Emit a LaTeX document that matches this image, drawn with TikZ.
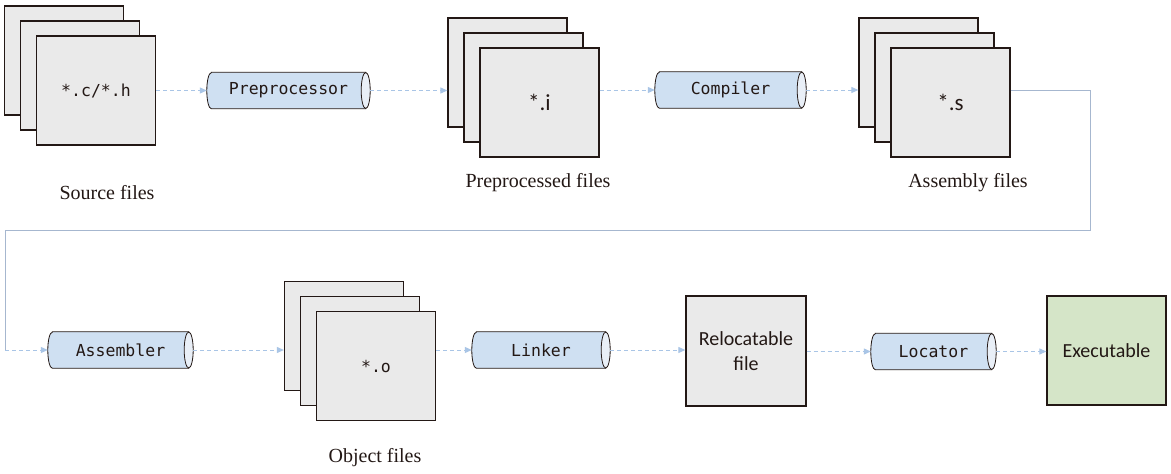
\documentclass[tikz,border=0pt]{standalone}
\usepackage{fontspec}
\setmainfont{Liberation Serif}
\newfontfamily\codefont{DejaVu Sans Mono}
\newfontfamily\boxfont{Carlito}
\usetikzlibrary{arrows.meta}

\definecolor{cardfill}{HTML}{EAEAEA}
\definecolor{ink}{HTML}{231815}
\definecolor{pipefill}{HTML}{CFE0F2}
\definecolor{pipeend}{HTML}{E9EFF7}
\definecolor{flowblue}{HTML}{A9C5E6}
\definecolor{wiregray}{HTML}{A6B7CF}
\definecolor{exefill}{HTML}{D5E5C8}

\pgfdeclarelayer{paper}
\pgfdeclarelayer{background}
\pgfsetlayers{paper,background,main}

\tikzset{
  card/.style={draw=ink, fill=cardfill, line width=1.3pt, minimum width=119pt,
    minimum height=109pt, inner sep=0pt, text=ink},
  codetext/.style={font=\codefont\fontsize{16.5}{18}\selectfont},
  sanstext/.style={font=\boxfont\fontsize{20}{25}\selectfont},
  bigsans/.style={font=\boxfont\fontsize{23}{25}\selectfont},
  pipe/.style={minimum height=36pt, inner sep=0pt, text=ink,
    font=\codefont\fontsize{16.5}{18}\selectfont},
  pipe outline/.style={draw=ink, fill=pipefill, line width=0.8pt},
  pipe face/.style={draw=ink, fill=pipeend, line width=0.8pt},
  caption/.style={text=ink, font=\fontsize{20}{22}\selectfont},
  flow/.style={draw=flowblue, line width=1pt, dash pattern=on 4pt off 3pt,
    -{Triangle[length=7pt,width=6pt]}},
  wire/.style={draw=wiregray, line width=0.9pt},
}

% horizontal tube behind a pipe node: rounded left end, open face on the right
\newcommand\drawpipe[1]{%
  \begin{pgfonlayer}{background}
    \filldraw[pipe outline] ([xshift=4.5pt]#1.north west) -- ([xshift=-4.5pt]#1.north east)
      -- ([xshift=-4.5pt]#1.south east) -- ([xshift=4.5pt]#1.south west)
      arc[start angle=270, end angle=90, x radius=4.5pt, y radius=18pt] -- cycle;
    \filldraw[pipe face] ([xshift=-4.5pt]#1.east) ellipse[x radius=4.5pt, y radius=18pt];
  \end{pgfonlayer}}

% three stacked file cards: name, front-card centre x, y, text, text style
\newcommand\filestack[5]{%
  \node[card] (#1back) at (#2-32,#3-30) {};
  \node[card] (#1mid) at (#2-16,#3-15) {};
  \node[card, #5] (#1) at (#2,#3) {#4};}

\begin{document}
\begin{tikzpicture}[x=1pt, y=-1pt]
  \begin{pgfonlayer}{paper}
    \fill[white] (0,0) rectangle (1171,474);
  \end{pgfonlayer}
  \useasboundingbox (0,0) rectangle (1171,474);

  % first row
  \filestack{src}{96}{90.5}{*.c/*.h}{codetext}
  \node[caption] (srclabel) at (107,193) {Source files};
  \node[pipe, minimum width=163pt] (pre) at (288.5,90.5) {Preprocessor};
  \drawpipe{pre}
  \filestack{pp}{539.5}{102.5}{*.i}{bigsans}
  \node[caption] (pplabel) at (538,183) {Preprocessed files};
  \node[pipe, minimum width=151pt] (cmp) at (730.5,90) {Compiler};
  \drawpipe{cmp}
  \filestack{as}{950.5}{102.5}{*.s}{bigsans}
  \node[caption] (aslabel) at (968,183) {Assembly files};

  % second row
  \node[pipe, minimum width=145pt] (asm) at (120.5,350) {Assembler};
  \drawpipe{asm}
  \filestack{obj}{376}{366}{*.o}{codetext}
  \node[caption] (objlabel) at (375,458) {Object files};
  \node[pipe, minimum width=138pt] (lnk) at (541,350) {Linker};
  \drawpipe{lnk}
  \node[card, sanstext, minimum width=120pt, minimum height=110pt, align=center]
    (reloc) at (746,351) {Relocatable\\file};
  \node[pipe, minimum width=125pt] (loc) at (933.5,351.5) {Locator};
  \drawpipe{loc}
  \node[card, sanstext, fill=exefill] (exe) at (1106.5,350.5) {Executable};

  % connectors
  \coordinate (turnR) at (1090,230);
  \coordinate (turnL) at (5,230);
  \draw[flow] (src.east) -- (pre.west);
  \draw[flow] (pre.east) -- (pre.east -| ppback.west);
  \draw[flow] (pp.east |- cmp.west) -- (cmp.west);
  \draw[flow] (cmp.east) -- (cmp.east -| asback.west);
  \draw[wire] (as.east |- cmp.east) -| (turnR) -- (turnL) -- (turnL |- asm.west);
  \draw[flow] (turnL |- asm.west) -- (asm.west);
  \draw[flow] (asm.east) -- (asm.east -| objback.west);
  \draw[flow] (obj.east |- lnk.west) -- (lnk.west);
  \draw[flow] (lnk.east) -- (lnk.east -| reloc.west);
  \draw[flow] (reloc.east |- loc.west) -- (loc.west);
  \draw[flow] (loc.east) -- (loc.east -| exe.west);
\end{tikzpicture}
\end{document}
